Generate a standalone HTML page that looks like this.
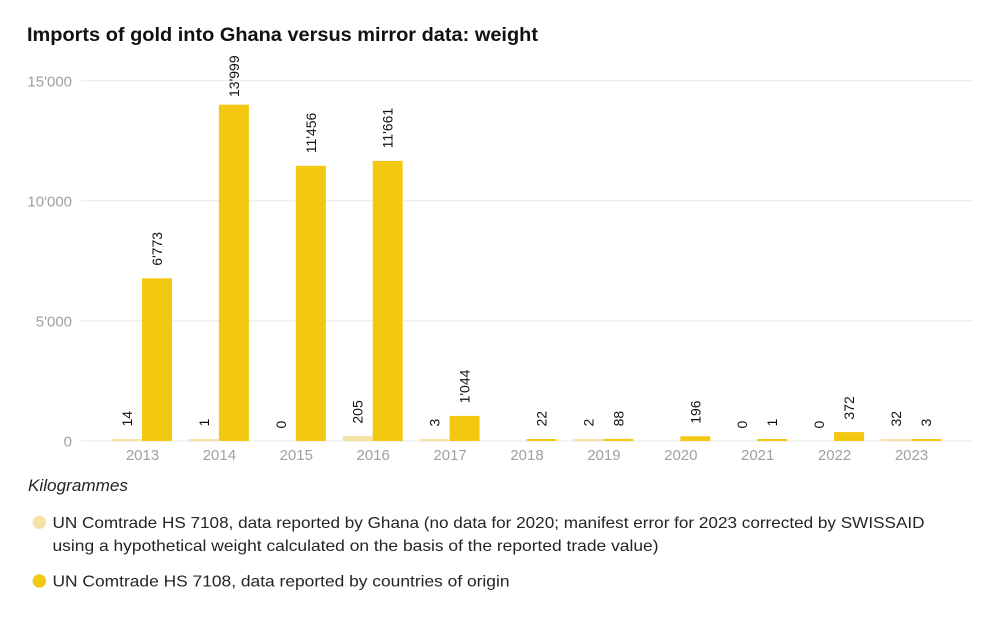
<!DOCTYPE html>
<html>
<head>
<meta charset="utf-8">
<style>
  html, body { margin: 0; padding: 0; background: #fff; }
  svg { display: block; }
  .t { font-family: "Liberation Sans", Arial, sans-serif; }
</style>
</head>
<body>
<svg width="1000" height="626" viewBox="0 0 1000 626" xmlns="http://www.w3.org/2000/svg">
  <rect width="1000" height="626" fill="#fff"/>
  <!-- Title -->
  <text class="t" x="27" y="41" font-size="19" font-weight="bold" fill="#111" textLength="511" lengthAdjust="spacingAndGlyphs">Imports of gold into Ghana versus mirror data: weight</text>

  <!-- Gridlines -->
  <g stroke="#e8e8e8" stroke-width="1">
    <line x1="81" y1="80.7" x2="973" y2="80.7"/>
    <line x1="81" y1="200.8" x2="973" y2="200.8"/>
    <line x1="81" y1="320.9" x2="973" y2="320.9"/>
    <line x1="81" y1="441" x2="973" y2="441"/>
  </g>

  <!-- Y labels -->
  <g class="t" font-size="15" fill="#a0a0a0" text-anchor="end">
    <text x="72" y="86.5">15'000</text>
    <text x="72" y="206.5">10'000</text>
    <text x="72" y="326.5">5'000</text>
    <text x="72" y="446.5">0</text>
  </g>

  <!-- X labels -->
  <g class="t" font-size="15" fill="#a0a0a0" text-anchor="middle">
    <text x="142.5" y="460">2013</text>
    <text x="219.4" y="460">2014</text>
    <text x="296.3" y="460">2015</text>
    <text x="373.2" y="460">2016</text>
    <text x="450.1" y="460">2017</text>
    <text x="527" y="460">2018</text>
    <text x="603.9" y="460">2019</text>
    <text x="680.8" y="460">2020</text>
    <text x="757.7" y="460">2021</text>
    <text x="834.6" y="460">2022</text>
    <text x="911.5" y="460">2023</text>
  </g>

  <!-- Ghana bars (light) -->
  <g fill="#f5e3a6">
    <rect x="112" y="439" width="29.5" height="2"/>
    <rect x="188.9" y="439" width="29.5" height="2"/>
    <rect x="342.7" y="436.1" width="29.5" height="4.9"/>
    <rect x="419.6" y="439" width="29.5" height="2"/>
    <rect x="573.4" y="439" width="29.5" height="2"/>
    <rect x="881" y="439" width="29.5" height="2"/>
  </g>

  <!-- Origin bars -->
  <g fill="#f2c811">
    <rect x="142" y="278.3" width="30" height="162.7"/>
    <rect x="218.9" y="104.7" width="30" height="336.3"/>
    <rect x="295.8" y="165.8" width="30" height="275.2"/>
    <rect x="372.7" y="160.9" width="30" height="280.1"/>
    <rect x="449.6" y="415.9" width="30" height="25.1"/>
    <rect x="526.5" y="439" width="30" height="2"/>
    <rect x="603.4" y="438.9" width="30" height="2.1"/>
    <rect x="680.3" y="436.3" width="30" height="4.7"/>
    <rect x="757.2" y="439" width="30" height="2"/>
    <rect x="834.1" y="432.1" width="30" height="8.9"/>
    <rect x="911" y="439" width="30" height="2"/>
  </g>

  <!-- Data labels -->
  <g class="t" font-size="14" fill="#111">
    <!-- Ghana -->
    <text transform="translate(132,426.5) rotate(-90)">14</text>
    <text transform="translate(208.9,426.5) rotate(-90)">1</text>
    <text transform="translate(285.8,428.5) rotate(-90)">0</text>
    <text transform="translate(362.7,423.6) rotate(-90)">205</text>
    <text transform="translate(439.6,426.5) rotate(-90)">3</text>
    <text transform="translate(593.4,426.5) rotate(-90)">2</text>
    <text transform="translate(747.2,428.5) rotate(-90)">0</text>
    <text transform="translate(824.1,428.5) rotate(-90)">0</text>
    <text transform="translate(901,426.5) rotate(-90)">32</text>
    <!-- Origin -->
    <text transform="translate(162,265.8) rotate(-90)">6'773</text>
    <text transform="translate(238.9,97) rotate(-90)">13'999</text>
    <text transform="translate(315.8,153.3) rotate(-90)">11'456</text>
    <text transform="translate(392.7,148.4) rotate(-90)">11'661</text>
    <text transform="translate(469.6,403.4) rotate(-90)">1'044</text>
    <text transform="translate(546.5,426.5) rotate(-90)">22</text>
    <text transform="translate(623.4,426.4) rotate(-90)">88</text>
    <text transform="translate(700.3,423.8) rotate(-90)">196</text>
    <text transform="translate(777.2,426.5) rotate(-90)">1</text>
    <text transform="translate(854.1,419.6) rotate(-90)">372</text>
    <text transform="translate(931,426.5) rotate(-90)">3</text>
  </g>

  <!-- Unit -->
  <text class="t" x="28" y="491" font-size="16.5" font-style="italic" fill="#252423" textLength="100" lengthAdjust="spacingAndGlyphs">Kilogrammes</text>

  <!-- Legend -->
  <circle cx="39.3" cy="522.3" r="6.7" fill="#f5e3a6"/>
  <text class="t" x="52.5" y="528" font-size="16" fill="#252423" textLength="872" lengthAdjust="spacingAndGlyphs">UN Comtrade HS 7108, data reported by Ghana (no data for 2020; manifest error for 2023 corrected by SWISSAID</text>
  <text class="t" x="52.5" y="551" font-size="16" fill="#252423" textLength="606" lengthAdjust="spacingAndGlyphs">using a hypothetical weight calculated on the basis of the reported trade value)</text>

  <circle cx="39.3" cy="581" r="6.7" fill="#f2c811"/>
  <text class="t" x="52.5" y="586.7" font-size="16" fill="#252423" textLength="457" lengthAdjust="spacingAndGlyphs">UN Comtrade HS 7108, data reported by countries of origin</text>
</svg>
</body>
</html>
